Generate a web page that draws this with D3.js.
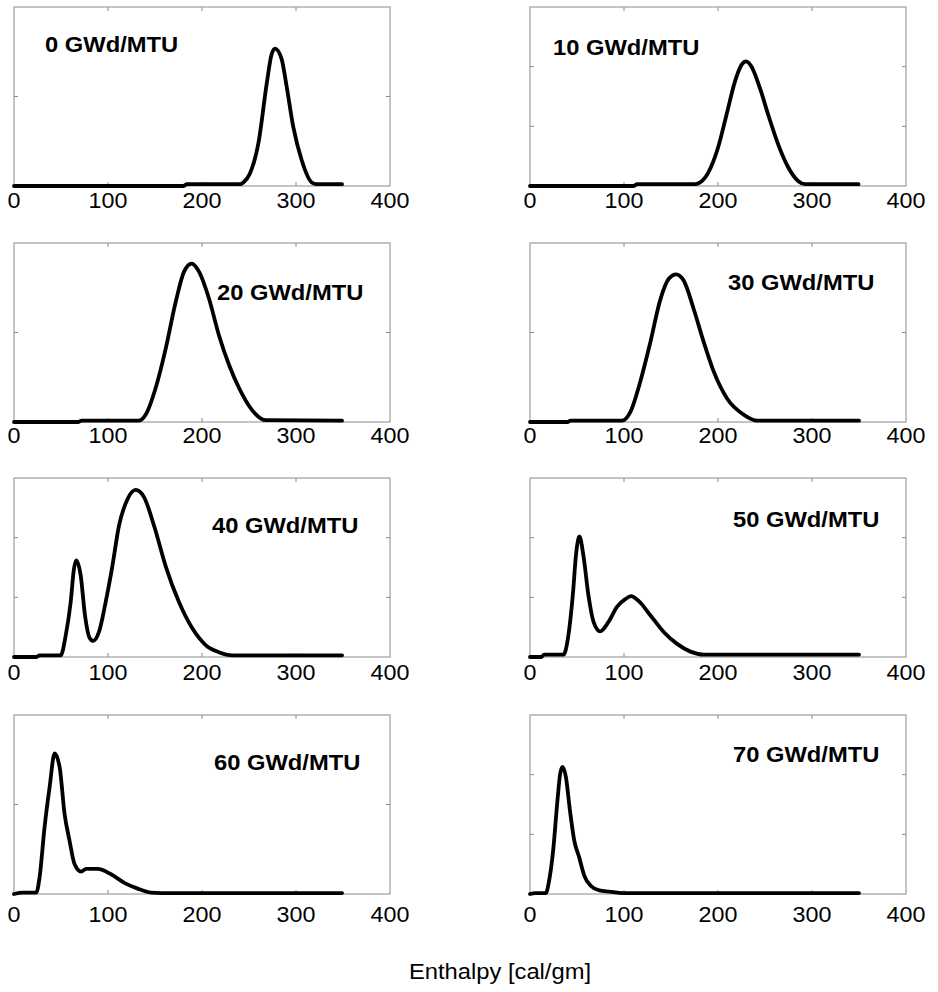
<!DOCTYPE html>
<html>
<head>
<meta charset="utf-8">
<script src="https://cdn.jsdelivr.net/npm/d3@7"></script>
<style>
	body { margin: 0; background: #fff; }
	text { font-family: "Liberation Sans", Arial, sans-serif; }
</style>
</head>
<body>
<div id="plot"></div>
<script>

// burnup levels, one panel each
const burnups = [ 0, 10, 20, 30, 40, 50, 60, 70 ];
const panelLabels = burnups.map( b => b + " GWd/MTU" );

const xTicks = [ 0, 100, 200, 300, 400 ];

// y range of each panel (x1e-3) and its number of tick steps
const yMaxes = [ 40, 30, 20, 20, 15, 30, 40, 60 ];
const ySteps = [ 2, 3, 2, 2, 3, 3, 2, 3 ];

// enthalpy distributions: [ cal/gm, density x1e-3 ]
const dist0 = [
	[ 0, 0 ], [ 180, 0 ], [ 184, 0.4 ], [ 240, 0.4 ], [ 244, 0.8 ], [ 251, 2.8 ], [ 260, 9.6 ],
	[ 269, 23.1 ], [ 274, 29.4 ], [ 277.7, 30.7 ], [ 284.8, 28.3 ], [ 290, 22.3 ], [ 297, 13.3 ],
	[ 306, 5.8 ], [ 316.7, 0.8 ], [ 322, 0.4 ], [ 349, 0.4 ]
];
const dist10 = [
	[ 0, 0 ], [ 110, 0 ], [ 114, 0.3 ], [ 176, 0.3 ], [ 181, 0.6 ], [ 189.5, 2.2 ], [ 200, 6.4 ],
	[ 209, 11.9 ], [ 218, 17.5 ], [ 225, 20.3 ], [ 229.7, 20.9 ], [ 235.7, 20 ], [ 244.6, 16.4 ],
	[ 253.5, 11.9 ], [ 264.2, 6.9 ], [ 274.8, 3.1 ], [ 285.5, 0.8 ], [ 292.6, 0.3 ], [ 349.5, 0.3 ]
];
const dist20 = [
	[ 0, 0 ], [ 68, 0 ], [ 72, 0.15 ], [ 133, 0.15 ], [ 140, 0.8 ], [ 150.7, 3.8 ], [ 161.4, 8.2 ],
	[ 172, 13.4 ], [ 180.9, 16.8 ], [ 189, 17.7 ], [ 196.8, 16.8 ], [ 207.4, 13.8 ], [ 218, 9.7 ],
	[ 228.7, 6.4 ], [ 239.4, 3.8 ], [ 253.5, 1.3 ], [ 267.7, 0.2 ], [ 349, 0.15 ]
];
const dist30 = [
	[ 0, 0 ], [ 40, 0 ], [ 43, 0.15 ], [ 98, 0.15 ], [ 106.7, 1.1 ], [ 117.3, 4.5 ], [ 128, 8.9 ],
	[ 138.7, 13.7 ], [ 147.6, 16 ], [ 155.4, 16.5 ], [ 163.5, 15.8 ], [ 174.2, 12.6 ], [ 184.9, 8.9 ],
	[ 195.6, 5.6 ], [ 209.8, 2.6 ], [ 227.6, 0.8 ], [ 241.8, 0.15 ], [ 350, 0.15 ]
];
const dist40 = [
	[ 0, 0 ], [ 24, 0 ], [ 27, 0.14 ], [ 49.7, 0.14 ], [ 55, 1.8 ], [ 60.3, 4.6 ], [ 63.8, 7.4 ],
	[ 66.3, 8.1 ], [ 71, 6.8 ], [ 75.5, 3.5 ], [ 80.5, 1.6 ], [ 84.4, 1.35 ], [ 90.4, 2.1 ],
	[ 97.5, 4.6 ], [ 104.6, 7.6 ], [ 111.7, 11 ], [ 120.6, 13.2 ], [ 129.4, 14 ], [ 138.3, 13.4 ],
	[ 149, 11 ], [ 161.4, 7.6 ], [ 175.5, 4.6 ], [ 189.7, 2.4 ], [ 203.9, 1 ], [ 218, 0.4 ],
	[ 232, 0.14 ], [ 349, 0.14 ]
];
const dist50 = [
	[ 0, 0 ], [ 12, 0 ], [ 15, 0.4 ], [ 35.6, 0.4 ], [ 40.9, 3.7 ], [ 45.5, 10.3 ], [ 49.1, 17.4 ],
	[ 52.6, 20.2 ], [ 56.9, 16.9 ], [ 62.2, 10.3 ], [ 67.6, 5.9 ], [ 74.7, 4.3 ], [ 83.6, 5.9 ],
	[ 92.5, 8.4 ], [ 101.3, 9.7 ], [ 107.4, 10.2 ], [ 115.5, 9.4 ], [ 128, 7 ], [ 142.2, 4.2 ],
	[ 156.5, 2.2 ], [ 170.7, 0.9 ], [ 184.9, 0.4 ], [ 350, 0.4 ]
];
const dist60 = [
	[ 0, 0 ], [ 9.5, 0.3 ], [ 23.7, 0.3 ], [ 27.2, 3.7 ], [ 32.5, 14.9 ], [ 37.9, 23.9 ], [ 43.2, 31.4 ],
	[ 48.5, 28.4 ], [ 53.8, 17.9 ], [ 59.1, 11.9 ], [ 64.4, 6.7 ], [ 71.4, 5 ], [ 76.7, 5.6 ],
	[ 89.1, 5.6 ], [ 103.2, 4.4 ], [ 117.4, 2.5 ], [ 131.6, 1.2 ], [ 145.7, 0.3 ], [ 157, 0.2 ],
	[ 349, 0.2 ]
];
const dist70 = [
	[ 0, 0 ], [ 6, 0.3 ], [ 16.8, 0.3 ], [ 20.3, 4.4 ], [ 24.6, 14.5 ], [ 29.2, 31.3 ], [ 32.1, 40.3 ],
	[ 34.6, 42.6 ], [ 38.2, 39.2 ], [ 42.5, 28 ], [ 47.1, 17.9 ], [ 52.4, 12.2 ], [ 57.8, 6.1 ],
	[ 64.9, 2.7 ], [ 73.8, 1.2 ], [ 84.5, 0.8 ], [ 98.8, 0.3 ], [ 350, 0.3 ]
];
const dists = [ dist0, dist10, dist20, dist30, dist40, dist50, dist60, dist70 ];

const xTitle = "Enthalpy [cal/gm]";

///////////////////////////////////////////////////////////////////////

const width = 938, height = 992;
const colLeft = [ 14, 530 ];
const rowTop = [ 7, 243, 478, 715 ];
const panelW = 376, panelH = 179;
const tickLabelDy = [ 22, 21, 23, 28 ];

// label placement inside each panel, pixels from panel top-left
const labelPos = [
	[ 31, 45 ], [ 23, 48 ], [ 203, 57 ], [ 198, 47 ],
	[ 198, 55 ], [ 203, 49 ], [ 200, 55 ], [ 203, 47 ]
];

const svg = d3.select( "#plot" )
	.append( "svg" )
		.attr( "width", width )
		.attr( "height", height );

const x = d3.scaleLinear()
	.domain( [ 0, 400 ] )
	.range( [ 0, panelW ] );

dists.forEach( ( dist, i ) => {

	let col = i % 2, row = Math.floor( i / 2 );
	let g = svg.append( "g" )
		.attr( "transform", `translate(${colLeft[ col ]},${rowTop[ row ]})` );

	let y = d3.scaleLinear()
		.domain( [ 0, yMaxes[ i ] ] )
		.range( [ panelH, 0 ] );
	let yTicks = d3.range( 1, ySteps[ i ] ).map( k => k * yMaxes[ i ] / ySteps[ i ] );

	// frame
	g.append( "rect" )
		.attr( "width", panelW )
		.attr( "height", panelH )
		.attr( "fill", "none" )
		.attr( "stroke", "#8a8a8a" )
		.attr( "stroke-width", 1 );

	// inner tick marks on all four sides
	let ticks = g.append( "g" )
		.attr( "stroke", "#8a8a8a" )
		.attr( "stroke-width", 1 );
	xTicks.slice( 1, -1 ).forEach( t => {
		ticks.append( "line" )
			.attr( "x1", x( t ) ).attr( "x2", x( t ) )
			.attr( "y1", panelH ).attr( "y2", panelH - 4 );
		ticks.append( "line" )
			.attr( "x1", x( t ) ).attr( "x2", x( t ) )
			.attr( "y1", 0 ).attr( "y2", 4 );
	} );
	yTicks.forEach( t => {
		ticks.append( "line" )
			.attr( "x1", 0 ).attr( "x2", 4 )
			.attr( "y1", y( t ) ).attr( "y2", y( t ) );
		ticks.append( "line" )
			.attr( "x1", panelW ).attr( "x2", panelW - 4 )
			.attr( "y1", y( t ) ).attr( "y2", y( t ) );
	} );

	// x tick labels
	g.selectAll( "text.tick" )
		.data( xTicks )
		.join( "text" )
			.attr( "class", "tick" )
			.attr( "transform", d => `translate(${x( d )},${panelH + tickLabelDy[ row ]}) scale(1.06,1)` )
			.attr( "text-anchor", "middle" )
			.attr( "font-size", 22 )
			.attr( "fill", "#000" )
			.text( d => d );

	// distribution curve
	let line = d3.line()
		.x( d => x( d[ 0 ] ) )
		.y( d => y( d[ 1 ] ) )
		.curve( d3.curveMonotoneX );

	g.append( "path" )
		.datum( dist )
		.attr( "d", line )
		.attr( "fill", "none" )
		.attr( "stroke", "#000" )
		.attr( "stroke-width", 3.8 )
		.attr( "stroke-linejoin", "round" )
		.attr( "stroke-linecap", "round" );

	// burnup label
	g.append( "text" )
		.attr( "transform", `translate(${labelPos[ i ][ 0 ]},${labelPos[ i ][ 1 ]}) scale(1.08,1)` )
		.attr( "font-size", 22 )
		.attr( "font-weight", "bold" )
		.attr( "fill", "#000" )
		.text( panelLabels[ i ] );
} );

svg.append( "text" )
	.attr( "transform", "translate(500,979) scale(1.08,1)" )
	.attr( "text-anchor", "middle" )
	.attr( "font-size", 22 )
	.attr( "fill", "#000" )
	.text( xTitle );

</script>
</body>
</html>
